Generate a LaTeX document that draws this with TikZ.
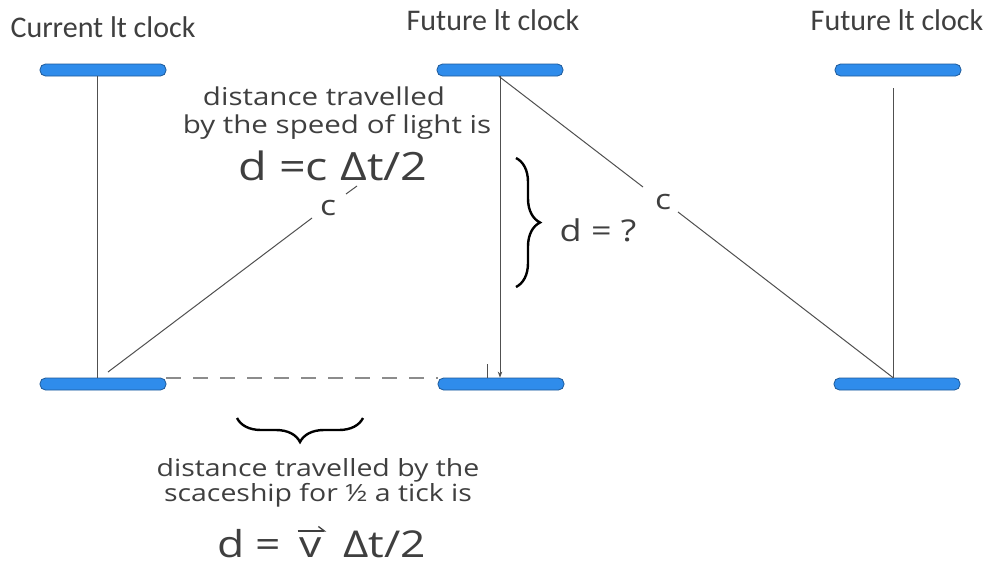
\documentclass[tikz,border=0pt]{standalone}
\usepackage{fontspec}
\setmainfont{Carlito}
\newfontfamily\lblfont{Open Sans}
\usetikzlibrary{decorations.pathreplacing,arrows.meta}
\definecolor{mblue}{HTML}{2F8CEB}
\definecolor{mdark}{HTML}{1E5A99}
\definecolor{tgray}{HTML}{3F3F3F}
\definecolor{raygray}{HTML}{505050}
\newcommand{\sx}[1]{\scalebox{1.2}[1]{#1}}
\begin{document}
\begin{tikzpicture}[x=1pt,y=-1pt,
  mirror/.style={draw=mdark, line width=0.8pt, fill=mblue, rounded corners=5.5pt,
    minimum width=126pt, minimum height=12pt, inner sep=0pt},
  ray/.style={draw=raygray, line width=1pt},
  title/.style={text=tgray, inner sep=0pt, anchor=base, font=\fontsize{30}{32}\selectfont},
  lbl/.style={text=tgray, inner sep=0pt, anchor=base, font=\lblfont\fontsize{24.6}{26}\selectfont},
  formula/.style={text=tgray, inner sep=0pt, anchor=base, font=\lblfont\fontsize{39}{40}\selectfont},
  bform/.style={text=tgray, inner sep=0pt, text depth=0pt, font=\lblfont\fontsize{37}{38}\selectfont},
  cl/.style={text=tgray, inner sep=0pt, font=\lblfont\fontsize{28}{28}\selectfont},
  bracestyle/.style={draw=black, line width=2.4pt, decorate}]
\fill[white] (0,0) rectangle (992,565);
\useasboundingbox (0,0) rectangle (992,565);

% titles
\node[title] (t1) at (103,37) {Current lt clock};
\node[title] (t2) at (493,30) {Future lt clock};
\node[title] (t3) at (897,30) {Future lt clock};

% mirrors
\node[mirror] (lt) at (103,70) {};
\node[mirror] (mt) at (500,70) {};
\node[mirror] (rt) at (898,70) {};
\node[mirror] (lb) at (103,384) {};
\node[mirror] (mb) at (501,384) {};
\node[mirror] (rb) at (897,384) {};

% vertical light paths
\draw[ray] ([xshift=-6pt]lt.south) -- ([xshift=-6pt]lb.north);
\draw[ray,-{Stealth[length=6pt,width=4.5pt]}] ([xshift=0pt]mt.south) -- ([xshift=-1pt]mb.north);
\coordinate (tick1) at (487,364);
\coordinate (tick2) at (487,378);
\draw[ray] (tick1) -- (tick2);
\draw[ray] ([xshift=-5pt,yshift=-12pt]rt.south) -- ([xshift=-4pt]rb.north);

% diagonal paths with c labels
\node[cl] (c1) at (328,208) {\sx{c}};
\coordinate (a1) at (108,372);
\draw[ray] (a1) -- (312,218);
\draw[ray] (346,194) -- (357,186);
\node[cl] (c2) at (663,202) {\sx{c}};
\draw[ray] ([xshift=-1pt]mt.south) -- (643,187);
\draw[ray] (678,212) -- ([xshift=-4pt]rb.north);

% dashed line
\draw[draw=black!45, line width=1.6pt, dash pattern=on 15pt off 12pt] ([yshift=6pt]lb.east) -- ([yshift=6pt]mb.west);

% top labels
\node[lbl] (l1) at (324,105) {\sx{distance travelled}};
\node[lbl] (l2) at (337,133) {\sx{by the speed of light is}};
\node[formula] (f1) at (333,180) {\sx{d =c Δt/2}};

% right brace
\coordinate (b1) at (516,158);
\coordinate (b2) at (516,287);
\draw[bracestyle, decoration={brace, amplitude=24pt, aspect=0.5}] (b1) -- (b2);
\node[lbl, font=\lblfont\fontsize{30}{30}\selectfont] (dq) at (598,241) {\sx{d = ?}};

% bottom brace and labels
\coordinate (b3) at (363,418);
\coordinate (b4) at (237,418);
\draw[bracestyle, decoration={brace, amplitude=24pt, aspect=0.5}] (b3) -- (b4);
\node[text=tgray, inner sep=0pt, anchor=north, align=center,
  font=\lblfont\fontsize{23.7}{21}\selectfont] (l3) at (318,458)
  {\sx{distance travelled by the}\\\sx{scaceship for ½ a tick is}};
\node[bform, anchor=base west] (fd) at (217,557) {\sx{d =}};
\node[bform, anchor=base] (fv) at (311,557) {\sx{v}};
\node[bform, anchor=base west] (ft) at (343,557) {\sx{Δt/2}};
\draw[draw=tgray, line width=1.3pt, -{Straight Barb[left, length=6pt, width=9pt]}]
  ([xshift=-2pt,yshift=6pt]fv.north west) -- ([xshift=4pt,yshift=6pt]fv.north east);
\end{tikzpicture}
\end{document}
